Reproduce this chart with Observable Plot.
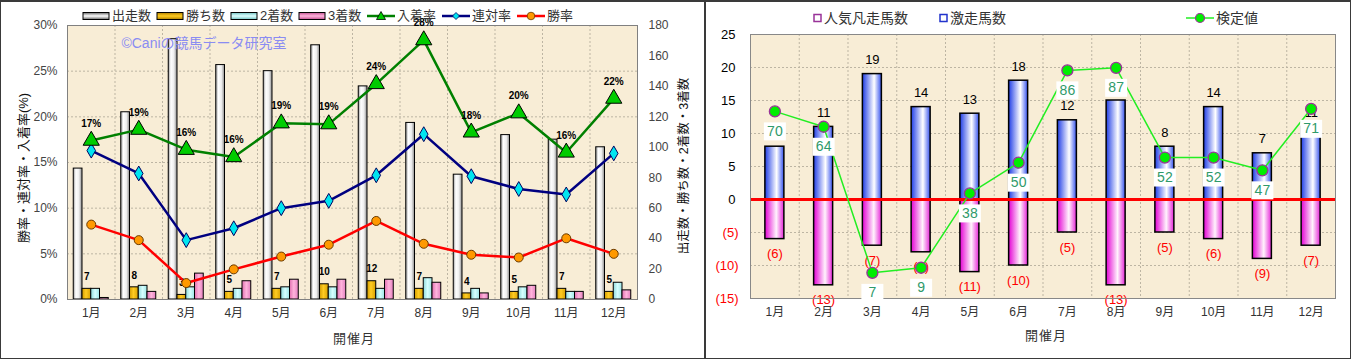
<!DOCTYPE html>
<html><head><meta charset="utf-8">
<script src="https://cdn.jsdelivr.net/npm/d3@7"></script>
<script src="https://cdn.jsdelivr.net/npm/@observablehq/plot@0.6"></script>
<style>
body{margin:0;background:#fff;font-family:"Liberation Sans","Noto Sans CJK JP",sans-serif;}
#wrap{position:relative;width:1351px;height:360px;overflow:hidden;background:#fff;}
.abs{position:absolute;}
.layer{position:absolute;left:0;top:0;}
.lg{position:absolute;font-size:13px;color:#333;white-space:nowrap;line-height:14px;height:14px;}
.lg svg{vertical-align:top;}
.ttl{position:absolute;white-space:nowrap;font-size:13px;color:#111;transform:translate(-50%,-50%) rotate(-90deg);}
.xl{position:absolute;white-space:nowrap;font-size:13px;color:#333;transform:translate(-50%,-50%);letter-spacing:1px;}
</style></head><body>
<svg width="0" height="0" style="position:absolute">
<defs>
<linearGradient id="gRun" x1="0" x2="1" y1="0" y2="0"><stop offset="0" stop-color="#9a9a9a"/><stop offset="0.3" stop-color="#ffffff"/><stop offset="0.65" stop-color="#eeeeee"/><stop offset="1" stop-color="#8a8a8a"/></linearGradient>
<linearGradient id="gWin" x1="0" x2="1" y1="0" y2="0"><stop offset="0" stop-color="#d39c00"/><stop offset="0.45" stop-color="#ffcc22"/><stop offset="1" stop-color="#d8a000"/></linearGradient>
<linearGradient id="g2nd" x1="0" x2="1" y1="0" y2="0"><stop offset="0" stop-color="#8fdada"/><stop offset="0.5" stop-color="#d6ffff"/><stop offset="1" stop-color="#9ee6e6"/></linearGradient>
<linearGradient id="g3rd" x1="0" x2="1" y1="0" y2="0"><stop offset="0" stop-color="#e070b0"/><stop offset="0.5" stop-color="#ffb4dc"/><stop offset="1" stop-color="#e37fbf"/></linearGradient>
<linearGradient id="gBlue" x1="0" x2="1" y1="0" y2="0"><stop offset="0" stop-color="#1f3de6"/><stop offset="0.62" stop-color="#ffffff"/><stop offset="1" stop-color="#3552ee"/></linearGradient>
<linearGradient id="gPink" x1="0" x2="1" y1="0" y2="0"><stop offset="0" stop-color="#e400d4"/><stop offset="0.6" stop-color="#fff3fc"/><stop offset="1" stop-color="#e626d8"/></linearGradient>
<linearGradient id="gRunV" x1="0" x2="0" y1="0" y2="1"><stop offset="0" stop-color="#666"/><stop offset="0.5" stop-color="#fff"/><stop offset="1" stop-color="#666"/></linearGradient>
<linearGradient id="gWinV" x1="0" x2="0" y1="0" y2="1"><stop offset="0" stop-color="#b08000"/><stop offset="0.5" stop-color="#ffcc22"/><stop offset="1" stop-color="#b08000"/></linearGradient>
<linearGradient id="g2ndV" x1="0" x2="0" y1="0" y2="1"><stop offset="0" stop-color="#70c0c0"/><stop offset="0.5" stop-color="#ddffff"/><stop offset="1" stop-color="#70c0c0"/></linearGradient>
<linearGradient id="g3rdV" x1="0" x2="0" y1="0" y2="1"><stop offset="0" stop-color="#c05090"/><stop offset="0.5" stop-color="#ffb4dc"/><stop offset="1" stop-color="#c05090"/></linearGradient>
</defs></svg>
<div id="wrap">
  <div id="left" class="abs" style="left:0;top:0;width:705px;height:360px"></div>
  <div id="right" class="abs" style="left:705px;top:0;width:646px;height:360px"></div>
  <div class="abs" style="left:0;top:0;width:705px;height:359px;box-sizing:border-box;border:1px solid #3a3a3a;border-top-width:2px;"></div>
  <div class="abs" style="left:705px;top:0;width:646px;height:359px;box-sizing:border-box;border:1px solid #3a3a3a;border-top-width:2px;"></div>
</div>
<script>
// ---------- data: left chart ----------
const months = ["1月","2月","3月","4月","5月","6月","7月","8月","9月","10月","11月","12月"];
const runs    = [86,123,171,154,150,167,140,116,82,108,105,100];   // 出走数
const wins    = [7,8,3,5,7,10,12,7,4,5,7,5];                       // 勝ち数
const seconds = [7,9,8,7,8,8,7,14,7,8,5,11];                       // 2着数
const thirds  = [1,5,17,12,13,13,13,11,4,9,5,6];                   // 3着数
const placeRate  = [17.4,18.6,16.4,15.6,19.3,19.2,23.6,28.4,18.3,20.4,16.1,22.0]; // 入着率
const rentaiRate = [16.3,13.8,6.5,7.8,10.0,10.8,13.6,18.1,13.5,12.1,11.5,16.0];   // 連対率
const winRate    = [8.2,6.5,1.8,3.3,4.7,6.0,8.6,6.1,4.9,4.6,6.7,5.0];            // 勝率
const pctTicks   = [0,5,10,15,20,25,30];
const countTicks = [0,20,40,60,80,100,120,140,160,180];
const countGrid  = [30,60,90,120,150];
// ---------- data: right chart ----------
const gekisou = [8,11,19,14,13,18,12,15,8,14,7,11];                 // 激走馬数
const ninkiBonsou = [-6,-13,-7,-8,-11,-10,-5,-13,-5,-6,-9,-7];     // 人気凡走馬数
const kentei = [70,64,7,9,38,50,86,87,52,52,47,71];                // 検定値
const rTicksPos = [0,5,10,15,20,25];
const rTicksNeg = [-5,-10,-15];
const rGrid = [-15,-10,-5,5,10,15,20,25];

const leftNames = ["出走数","勝ち数","2着数","3着数","入着率","連対率","勝率"];
const rightNames = ["人気凡走馬数","激走馬数","検定値"];
const leftYTitle = "勝率・連対率・入着率(%)";
const rightYTitle = "出走数・勝ち数・2着数・3着数";
const xTitle = "開催月";
const watermark = "©Caniの競馬データ研究室";

const FONT = '"Liberation Sans","Noto Sans CJK JP",sans-serif';
const BG = "#f8edd6";
const GRID = "#bdb5a3";

const leftData = months.map((m,i)=>({month:m, runs:runs[i], wins:wins[i], second:seconds[i], third:thirds[i],
  place:placeRate[i], rentai:rentaiRate[i], win:winRate[i]}));
const rightData = months.map((m,i)=>({month:m, gek:gekisou[i], bon:ninkiBonsou[i], kentei:kentei[i]}));

// ---------- left chart ----------
const LW = 705, H = 360, LML = 67, LMR = 68, LMT = 25, LMB = 61;
const band = (LW - LML - LMR) / 12;
const g0 = 6.25, bw = 8.75;
const xL = {type:"band", domain:months, padding:0, round:false};
const styleBase = {background:"transparent", fontFamily:FONT, fontSize:"12px", overflow:"visible"};

function barSeries(key, i, fill){
  return Plot.barY(leftData, {x:"month", y:key, fill, stroke:"#000", strokeWidth:1,
    insetLeft: g0 + bw*i, insetRight: band - g0 - bw*(i+1)});
}

const plotA = Plot.plot({
  width:LW, height:H, marginLeft:LML, marginRight:LMR, marginTop:LMT, marginBottom:LMB,
  style:styleBase,
  x:xL, y:{domain:[0,180]},
  marks:[
    Plot.frame({fill:BG, stroke:"none"}),
    Plot.gridY({ticks:countGrid, stroke:GRID, strokeOpacity:1, strokeDasharray:"2,2"}),
    Plot.gridX({stroke:GRID, strokeOpacity:1, strokeDasharray:"2,2", dx: band/2}),
    barSeries("runs",0,"url(#gRun)"),
    barSeries("wins",1,"url(#gWin)"),
    barSeries("second",2,"url(#g2nd)"),
    barSeries("third",3,"url(#g3rd)"),
    Plot.text(leftData, {x:"month", y:"wins", text:d=>String(d.wins), dx:-4.4, dy:-12, fontWeight:"bold", fontSize:10, fill:"#000"}),
    Plot.axisY({anchor:"right", ticks:countTicks, tickSize:0, tickPadding:11, label:null, color:"#444", fontSize:12}),
    Plot.axisX({tickSize:0, tickPadding:9, label:null, color:"#333", fontSize:12}),
    Plot.frame({stroke:"#808080"})
  ]
});
const plotB = Plot.plot({
  width:LW, height:H, marginLeft:LML, marginRight:LMR, marginTop:LMT, marginBottom:LMB,
  style:styleBase,
  x:{...xL, axis:null}, y:{domain:[0,30]},
  marks:[
    Plot.line(leftData, {x:"month", y:"win", stroke:"#ff0000", strokeWidth:2.5}),
    Plot.line(leftData, {x:"month", y:"rentai", stroke:"#000080", strokeWidth:2.5}),
    Plot.line(leftData, {x:"month", y:"place", stroke:"#008000", strokeWidth:2.5}),
    Plot.dot(leftData, {x:"month", y:"win", r:4.5, fill:"#ff9900", stroke:"#6a3a00", strokeWidth:1}),
    Plot.dot(leftData, {x:"month", y:"rentai", symbol:"diamond", r:4.5, fill:"#00e5f0", stroke:"#000060", strokeWidth:1}),
    Plot.dot(leftData, {x:"month", y:"place", symbol:"triangle", r:6, fill:"#00cc00", stroke:"#000", strokeWidth:1}),
    Plot.text(leftData, {x:"month", y:"place", text:d=>d3.format(".0f")(d.place)+"%", dy:-17, fontWeight:"bold", fontSize:10, fill:"#000"}),
    Plot.axisY({anchor:"left", ticks:pctTicks, tickFormat:d=>d+"%", tickSize:0, tickPadding:10, label:null, color:"#444", fontSize:12})
  ]
});
const left = document.getElementById("left");
[plotA, plotB].forEach(p=>{p.classList.add("layer"); left.appendChild(p);});

// ---------- right chart ----------
const RW = 646, RML = 45, RMR = 16, RMT = 34, RMB = 62;
const bandR = (RW - RML - RMR) / 12;
const xR = {type:"band", domain:months, padding:0, round:false};
const barInset = (bandR - 19) / 2;
const plotC = Plot.plot({
  width:RW, height:H, marginLeft:RML, marginRight:RMR, marginTop:RMT, marginBottom:RMB,
  style:styleBase,
  x:xR, y:{domain:[-15,25]},
  marks:[
    Plot.frame({fill:BG, stroke:"none"}),
    Plot.gridY({ticks:rGrid, stroke:GRID, strokeOpacity:1, strokeDasharray:"2,2"}),
    Plot.gridX({stroke:GRID, strokeOpacity:1, strokeDasharray:"2,2", dx: bandR/2}),
    Plot.barY(rightData, {x:"month", y:"gek", fill:"url(#gBlue)", stroke:"#000", strokeWidth:1.5, insetLeft:barInset, insetRight:barInset}),
    Plot.barY(rightData, {x:"month", y:"bon", fill:"url(#gPink)", stroke:"#000", strokeWidth:1.5, insetLeft:barInset, insetRight:barInset}),
    Plot.ruleY([0], {stroke:"#ff0000", strokeWidth:3}),
    Plot.text(rightData, {x:"month", y:"gek", text:d=>String(d.gek), dy:-14, fontSize:13, fill:"#000"}),
    Plot.text(rightData, {x:"month", y:"bon", text:d=>`(${-d.bon})`, dy:15, fontSize:13, fill:"#ff0000"}),
    Plot.axisY({ticks:rTicksPos, tickSize:0, tickPadding:15, label:null, color:"#000", fontSize:13}),
    Plot.axisY({ticks:rTicksNeg, tickFormat:d=>`(${-d})`, tickSize:0, tickPadding:12, label:null, color:"#ff0000", fontSize:13}),
    Plot.axisX({tickSize:0, tickPadding:9, label:null, color:"#333", fontSize:12}),
    Plot.frame({stroke:"#888"})
  ]
});
const boxSymbol = {draw(ctx){ ctx.rect(-11,-9,22,18); }};
const plotD = Plot.plot({
  width:RW, height:H, marginLeft:RML, marginRight:RMR, marginTop:RMT, marginBottom:RMB,
  style:styleBase,
  x:{...xR, axis:null}, y:{domain:[-3,100], axis:null},
  marks:[
    Plot.line(rightData, {x:"month", y:"kentei", stroke:"#22ee22", strokeWidth:1.5}),
    Plot.dot(rightData, {x:"month", y:"kentei", symbol:boxSymbol, fill:"#fff", stroke:"none", dy:20}),
    Plot.text(rightData, {x:"month", y:"kentei", text:d=>String(d.kentei), dy:20, fontSize:14, fill:"#2f9a6a"}),
    Plot.dot(rightData, {x:"month", y:"kentei", r:5.5, fill:"#00ee00", stroke:"#993399", strokeWidth:1.3})
  ]
});
const right = document.getElementById("right");
[plotC, plotD].forEach(p=>{p.classList.add("layer"); right.appendChild(p);});

// ---------- legends & titles ----------
const wrap = document.getElementById("wrap");
function addDiv(cls, x, y, html, style){
  const d = document.createElement("div"); d.className = cls; d.style.left = x+"px"; d.style.top = y+"px";
  if (style) Object.assign(d.style, style);
  d.innerHTML = html; wrap.appendChild(d); return d;
}
const barSw = f => `<svg width="28" height="14"><rect x="1" y="3.5" width="26" height="7" fill="${f}" stroke="#000" stroke-width="1"/></svg>`;
const lineSw = (c, marker) => `<svg width="28" height="14"><line x1="0" x2="28" y1="7" y2="7" stroke="${c}" stroke-width="2.5"/>${marker}</svg>`;
const legL = [
  {x:82, sw:barSw("url(#gRunV)")},
  {x:156, sw:barSw("url(#gWinV)")},
  {x:230, sw:barSw("url(#g2ndV)")},
  {x:298, sw:barSw("url(#g3rdV)")},
  {x:367, sw:lineSw("#008000", `<path d="M14,2.5 L18.5,10.5 L9.5,10.5 Z" fill="#00cc00" stroke="#000" stroke-width="0.8"/>`)},
  {x:442, sw:lineSw("#000080", `<path d="M14,3.5 L17.5,7 L14,10.5 L10.5,7 Z" fill="#00e5f0" stroke="#000060" stroke-width="0.8"/>`)},
  {x:517, sw:lineSw("#ff0000", `<circle cx="14" cy="7" r="3.8" fill="#ff9900" stroke="#6a3a00" stroke-width="0.8"/>`)}
];
legL.forEach((l,i)=> addDiv("lg", l.x, 9, `${l.sw}<span style="margin-left:2px">${leftNames[i]}</span>`));

const sq = c => `<svg width="10" height="14"><rect x="1" y="3.5" width="7" height="7" fill="#fff" stroke="${c}" stroke-width="1.5"/></svg>`;
addDiv("lg", 813, 11, `${sq("#993399")}<span style="margin-left:1px">${rightNames[0]}</span>`, {fontSize:"14px"});
addDiv("lg", 939, 11, `${sq("#2233cc")}<span style="margin-left:1px">${rightNames[1]}</span>`, {fontSize:"14px"});
addDiv("lg", 1186, 11, `<svg width="28" height="14"><line x1="0" x2="28" y1="7" y2="7" stroke="#22ee22" stroke-width="1.5"/><circle cx="14" cy="7" r="4.5" fill="#00ee00" stroke="#993399" stroke-width="1.2"/></svg><span style="margin-left:2px">${rightNames[2]}</span>`, {fontSize:"14px"});

addDiv("ttl", 22, 168, leftYTitle, {fontSize:"13px"});
addDiv("ttl", 682, 166, rightYTitle, {fontSize:"12.5px"});
addDiv("xl", 354, 337, xTitle);
addDiv("xl", 1046, 334, xTitle);
addDiv("xl", 204, 42, watermark, {color:"#8a8cf2", fontSize:"14px", letterSpacing:"0px"});
</script>
</body></html>
